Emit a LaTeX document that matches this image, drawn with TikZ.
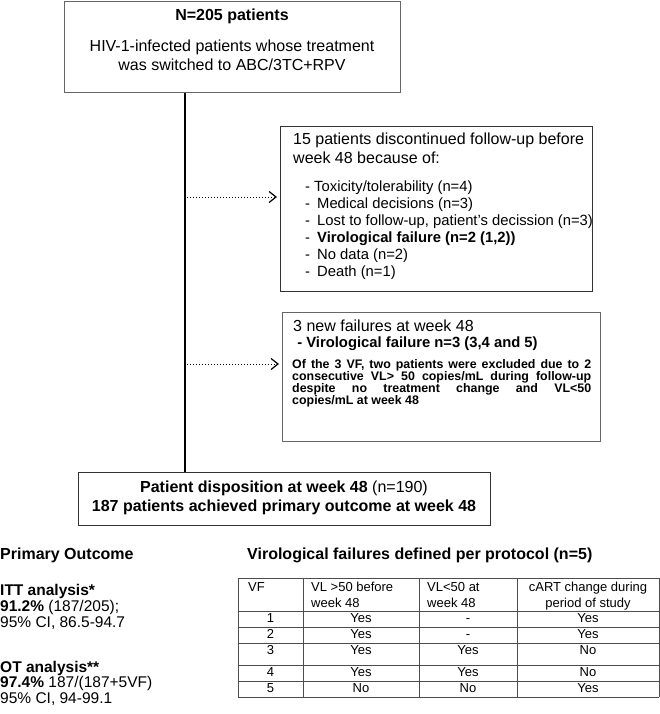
\documentclass[tikz,border=0pt]{standalone}
\usepackage{fontspec}
\setmainfont{Liberation Sans}
\usetikzlibrary{positioning,arrows.meta}

\begin{document}
\begin{tikzpicture}[x=1bp,y=-1bp,font=\fontsize{16bp}{19bp}\selectfont]
  \tikzstyle{flow box}=[draw=black!80,line width=1.3bp,rectangle,inner sep=0pt,anchor=north west]
  \tikzstyle{grey box}=[flow box,draw=black!60]
  \tikzstyle{plain text}=[inner sep=0pt,align=left]
  \tikzstyle{list text}=[plain text,font=\fontsize{14.8bp}{17bp}\selectfont]
  \tikzstyle{small bold}=[inner sep=0pt,font=\fontsize{12.4bp}{12bp}\selectfont\bfseries]
  \tikzstyle{exit arrow}=[dotted,line width=1bp,shorten >=3bp,shorten <=2bp,-{Straight Barb[length=7bp,width=11bp,line width=1.2bp]}]
  \tikzstyle{table rule}=[draw=black!70,line width=0.8bp]
  \tikzstyle{table text}=[inner sep=0pt,font=\fontsize{13bp}{16bp}\selectfont]
  \tikzstyle{table cell}=[table text,text height=9.5bp,text depth=2.5bp]
  \useasboundingbox (0,0) rectangle (660,714);

  % flow chart boxes
  \node[grey box,minimum width=336bp,minimum height=91bp] (enrol) at (64,1) {};
  \node[plain text,align=center,anchor=north] (enroltext) at (232,9)
    {\textbf{N=205 patients}\\[12bp]HIV-1-infected patients whose treatment\\was switched to ABC/3TC+RPV};

  \node[flow box,minimum width=312bp,minimum height=165bp] (reasons) at (280,126) {};
  \node[plain text,anchor=north west] (reasonstext) at (293,133)
    {15 patients discontinued follow-up before\\week 48 because of:};
  \node[list text,anchor=north west] (reasonlist) at (305,181)
    {- Toxicity/tolerability (n=4)\\
     \makebox[12bp][l]{-}Medical decisions (n=3)\\
     \makebox[12bp][l]{-}Lost to follow-up, patient's decission (n=3)\\
     \makebox[12bp][l]{-}\textbf{Virological failure (n=2 (1,2))}\\
     \makebox[12bp][l]{-}No data (n=2)\\
     \makebox[12bp][l]{-}Death (n=1)};

  \node[grey box,minimum width=318bp,minimum height=129bp] (newfail) at (282,312) {};
  \node[plain text,anchor=north west] (newfailtext) at (293,320)
    {3 new failures at week 48};
  \node[plain text,anchor=north west,font=\fontsize{14.8bp}{16bp}\selectfont\bfseries] (newfailvf) at (293,337)
    {\ - Virological failure n=3 (3,4 and 5)};
  \node[small bold,anchor=north west,text width=299bp,align=justify] (excluded) at (292,359)
    {Of the 3 VF, two patients were excluded due to 2\linebreak consecutive VL> 50 copies/mL during follow-up\linebreak despite no treatment change and VL<50\linebreak copies/mL at week 48};

  \node[flow box,minimum width=412bp,minimum height=53bp] (result) at (78,472) {};
  \node[plain text,align=center] (resulttext) at (284,498)
    {\textbf{Patient disposition at week 48} (n=190)\\\textbf{187 patients achieved primary outcome at week 48}};

  % connectors
  \coordinate (split1) at (185,197);
  \coordinate (split2) at (185,364);
  \draw[line width=1.3bp] (enrol.south -| split1) -- (result.north -| split1);
  \draw[exit arrow] (split1) -- (split1 -| reasons.west);
  \draw[exit arrow] (split2) -- (split2 -| newfail.west);

  % primary outcome
  \node[plain text,anchor=west] (outcome) at (0,555) {\textbf{Primary Outcome}};
  \node[plain text,anchor=north west,font=\fontsize{15.5bp}{16bp}\selectfont] (itt) at (0,584)
    {\textbf{ITT analysis*}\\\textbf{91.2\%} (187/205);\\95\% CI, 86.5-94.7};
  \node[plain text,anchor=north west,font=\fontsize{15.5bp}{15.5bp}\selectfont] (ot) at (0,661)
    {\textbf{OT analysis**}\\\textbf{97.4\%} 187/(187+5VF)\\95\% CI, 94-99.1};

  % failures table
  \node[plain text,anchor=west] (vftitle) at (247,555) {\textbf{Virological failures defined per protocol (n=5)}};
  \foreach \x in {238,303,419,517,659}
    \draw[table rule] (\x,578) -- (\x,697);
  \foreach \y in {578,611,627,643,665,681,697}
    \draw[table rule] (238,\y) -- (659,\y);
  \node[table text,anchor=west] (hvf) at (248,587) {VF};
  \node[table text,anchor=north west,align=left] (hbefore) at (311,582) {VL >50 before\\week 48};
  \node[table text,anchor=north west,align=left] (hat) at (427,582) {VL<50 at\\week 48};
  \node[table text,anchor=north,align=center] (hcart) at (588,582) {cART change during\\period of study};
  \foreach \vf/\a/\b/\c/\y in {1/Yes/-/Yes/619,2/Yes/-/Yes/635,3/Yes/Yes/No/651,4/Yes/Yes/No/673,5/No/No/Yes/689}{
    \node[table cell] (vf\vf) at (270.5,\y) {\vf};
    \node[table cell] (before\vf) at (361,\y) {\a};
    \node[table cell] (at\vf) at (468,\y) {\b};
    \node[table cell] (cart\vf) at (588,\y) {\c};
  }
\end{tikzpicture}
\end{document}
